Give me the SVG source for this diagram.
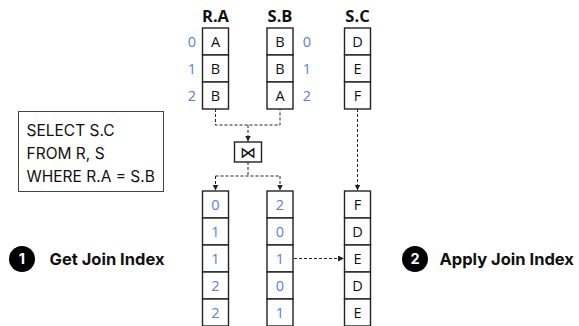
<svg xmlns="http://www.w3.org/2000/svg" width="579" height="326" viewBox="0 0 579 326">
<defs>
<marker id="ah" viewBox="0 0 6 6" refX="6" refY="3" markerWidth="6" markerHeight="6" markerUnits="userSpaceOnUse" orient="auto">
<path d="M0,0 L6,3 L0,6 Z" fill="#222"/>
</marker>
<style>
.cell{fill:#fff;stroke:#222;stroke-width:1.4}
.t{font-family:"Open Sans","Liberation Sans",sans-serif;font-size:14.5px;fill:#111;text-anchor:middle}
.n{font-family:"Open Sans","Liberation Sans",sans-serif;font-size:14.5px;fill:#5a80dc;text-anchor:middle}
.h{font-family:"Open Sans","Liberation Sans",sans-serif;font-size:16.5px;font-weight:bold;fill:#111;text-anchor:middle}
.sql{font-family:Inter,"Liberation Sans",sans-serif;font-size:15.5px;fill:#111}
.step{font-family:Inter,"Liberation Sans",sans-serif;font-size:16.5px;font-weight:bold;fill:#111}
.c{fill:#000}
.cn{font-family:Inter,"Liberation Sans",sans-serif;font-size:14.5px;font-weight:bold;fill:#fff;text-anchor:middle}
.d{fill:none;stroke:#222;stroke-width:1;stroke-dasharray:3 2}
</style>
</defs>

<g id="col-RA">
<text class="h" x="215.5" y="22">R.A</text>
<rect class="cell" x="202.5" y="28" width="26" height="27"/>
<rect class="cell" x="202.5" y="55" width="26" height="27"/>
<rect class="cell" x="202.5" y="82" width="26" height="27"/>
<text class="t" x="215.5" y="47">A</text>
<text class="t" x="215.5" y="74">B</text>
<text class="t" x="215.5" y="101">B</text>
<text class="n" x="192" y="47">0</text>
<text class="n" x="192" y="74">1</text>
<text class="n" x="192" y="101">2</text>
</g>

<g id="col-SB">
<text class="h" x="280" y="22">S.B</text>
<rect class="cell" x="267" y="28" width="26" height="27"/>
<rect class="cell" x="267" y="55" width="26" height="27"/>
<rect class="cell" x="267" y="82" width="26" height="27"/>
<text class="t" x="280" y="47">B</text>
<text class="t" x="280" y="74">B</text>
<text class="t" x="280" y="101">A</text>
<text class="n" x="307" y="47">0</text>
<text class="n" x="307" y="74">1</text>
<text class="n" x="307" y="101">2</text>
</g>

<g id="col-SC">
<text class="h" x="357.5" y="22">S.C</text>
<rect class="cell" x="344.5" y="28" width="26" height="27"/>
<rect class="cell" x="344.5" y="55" width="26" height="27"/>
<rect class="cell" x="344.5" y="82" width="26" height="27"/>
<text class="t" x="357.5" y="47">D</text>
<text class="t" x="357.5" y="74">E</text>
<text class="t" x="357.5" y="101">F</text>
</g>

<g id="join">
<rect class="cell" x="234.5" y="142" width="27" height="20"/>
<text x="248" y="157.5" style="font-family:'DejaVu Sans',sans-serif;font-size:16px;fill:#111;text-anchor:middle">⋈</text>
</g>

<g id="idx-R">
<rect class="cell" x="202.5" y="191" width="26" height="27"/>
<rect class="cell" x="202.5" y="218" width="26" height="27"/>
<rect class="cell" x="202.5" y="245" width="26" height="27"/>
<rect class="cell" x="202.5" y="272" width="26" height="27"/>
<rect class="cell" x="202.5" y="299" width="26" height="27"/>
<text class="n" x="215.5" y="210">0</text>
<text class="n" x="215.5" y="237">1</text>
<text class="n" x="215.5" y="264">1</text>
<text class="n" x="215.5" y="291">2</text>
<text class="n" x="215.5" y="318">2</text>
</g>

<g id="idx-S">
<rect class="cell" x="267" y="191" width="26" height="27"/>
<rect class="cell" x="267" y="218" width="26" height="27"/>
<rect class="cell" x="267" y="245" width="26" height="27"/>
<rect class="cell" x="267" y="272" width="26" height="27"/>
<rect class="cell" x="267" y="299" width="26" height="27"/>
<text class="n" x="280" y="210">2</text>
<text class="n" x="280" y="237">0</text>
<text class="n" x="280" y="264">1</text>
<text class="n" x="280" y="291">0</text>
<text class="n" x="280" y="318">1</text>
</g>

<g id="result">
<rect class="cell" x="344.5" y="191" width="26" height="27"/>
<rect class="cell" x="344.5" y="218" width="26" height="27"/>
<rect class="cell" x="344.5" y="245" width="26" height="27"/>
<rect class="cell" x="344.5" y="272" width="26" height="27"/>
<rect class="cell" x="344.5" y="299" width="26" height="27"/>
<text class="t" x="357.5" y="210">F</text>
<text class="t" x="357.5" y="237">D</text>
<text class="t" x="357.5" y="264">E</text>
<text class="t" x="357.5" y="291">D</text>
<text class="t" x="357.5" y="318">E</text>
</g>

<g id="sql">
<rect x="18.5" y="111.5" width="145" height="80" fill="#fff" stroke="#444" stroke-width="1"/>
<text class="sql" x="26.5" y="135.5">SELECT S.C</text>
<text class="sql" x="26.5" y="158.5">FROM R, S</text>
<text class="sql" x="26.5" y="181.5">WHERE R.A = S.B</text>
</g>

<g id="step1">
<circle class="c" cx="22" cy="259" r="13"/>
<text class="cn" x="22" y="264">1</text>
<text class="step" x="49.5" y="264.5">Get Join Index</text>
</g>

<g id="step2">
<circle class="c" cx="415" cy="259" r="13"/>
<text class="cn" x="415" y="264">2</text>
<text class="step" x="439.5" y="264.5">Apply Join Index</text>
</g>

<g id="connectors">
<path class="d" d="M215.5,109 V125 H280 V109"/>
<path class="d" d="M248,125 V141.5" marker-end="url(#ah)"/>
<path class="d" d="M248,162 V176"/>
<path class="d" d="M215.5,176 H280"/>
<path class="d" d="M215.5,176 V190.5" marker-end="url(#ah)"/>
<path class="d" d="M280,176 V190.5" marker-end="url(#ah)"/>
<path class="d" d="M357.5,109 V190.5" marker-end="url(#ah)"/>
<path class="d" d="M294,258.5 H344" marker-end="url(#ah)"/>
</g>
</svg>
